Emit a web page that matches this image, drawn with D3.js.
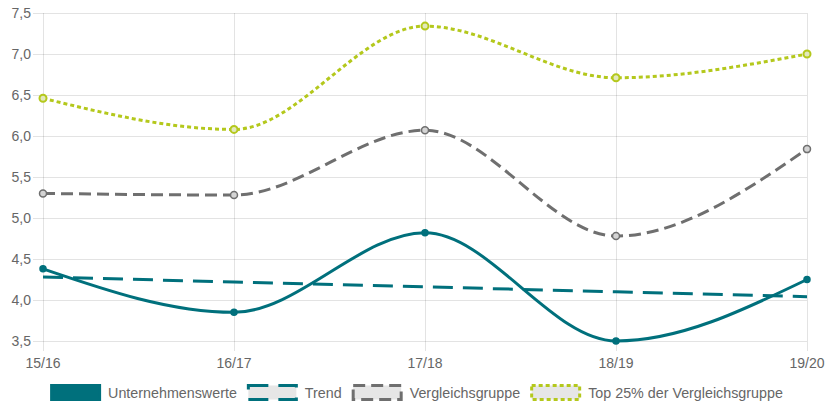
<!DOCTYPE html>
<html>
<head>
<meta charset="utf-8">
<script src="https://cdn.jsdelivr.net/npm/d3@7/dist/d3.min.js"></script>
<style>
  html, body { margin: 0; padding: 0; background: #fff; }
  svg { display: block; font-family: "Liberation Sans", Arial, Helvetica, sans-serif; }
</style>
</head>
<body>
<svg id="chart" width="825" height="403"></svg>
<script>
// Geschäftsjahre
const categories = ["15/16", "16/17", "17/18", "18/19", "19/20"];

// Kennzahlen je Geschäftsjahr
const unternehmenswerte = [4.38, 3.85, 4.82, 3.50, 4.25];
const trend = [4.28, 4.22, 4.16, 4.10, 4.04];
const vergleichsgruppe = [5.30, 5.28, 6.07, 4.78, 5.84];
const top25 = [6.46, 6.08, 7.34, 6.71, 7.00];

const seriesNames = ["Unternehmenswerte", "Trend", "Vergleichsgruppe", "Top 25% der Vergleichsgruppe"];
const yTicks = [3.5, 4.0, 4.5, 5.0, 5.5, 6.0, 6.5, 7.0, 7.5];

const W = 825, H = 403;
const area = { left: 43, right: 807, top: 13, bottom: 341 };
const TEAL = "#00707c", GREY = "#6f6f6f", LIME = "#b4c81c";
const GRID = "rgba(0,0,0,0.11)";
const TEXT = "#666";

const svg = d3.select("#chart");

const x = d3.scalePoint().domain(categories).range([area.left, area.right]);
const y = d3.scaleLinear().domain([3.5, 7.5]).range([area.bottom, area.top]);

// Gitterlinien
const grid = svg.append("g");
grid.selectAll("line.h").data(yTicks).join("line")
  .attr("x1", area.left - 10).attr("x2", area.right)
  .attr("y1", d => Math.round(y(d)) + 0.5).attr("y2", d => Math.round(y(d)) + 0.5)
  .attr("stroke", GRID).attr("stroke-width", 1);
grid.selectAll("line.v").data(categories).join("line")
  .attr("x1", d => Math.round(x(d)) + 0.5).attr("x2", d => Math.round(x(d)) + 0.5)
  .attr("y1", area.top).attr("y2", area.bottom + 10)
  .attr("stroke", GRID).attr("stroke-width", 1);

// Achsenbeschriftungen
const fmt = d => d3.format(".1f")(d).replace(".", ",");
svg.append("g").selectAll("text").data(yTicks).join("text")
  .attr("x", 31).attr("y", d => y(d)).attr("dy", "0.36em")
  .attr("text-anchor", "end").attr("fill", TEXT).attr("font-size", 14)
  .text(fmt);
svg.append("g").selectAll("text").data(categories).join("text")
  .attr("x", d => x(d)).attr("y", 368)
  .attr("text-anchor", "middle").attr("fill", TEXT).attr("font-size", 14)
  .text(d => d);

const datasets = [
  { name: seriesNames[0], values: unternehmenswerte, color: TEAL, dash: null, curve: d3.curveMonotoneX, box: TEAL, points: true, pointFill: TEAL, r: 3, sw: 1.5 },
  { name: seriesNames[1], values: trend, color: TEAL, dash: "20,10", curve: d3.curveLinear, box: "#e6e6e6", points: false },
  { name: seriesNames[2], values: vergleichsgruppe, color: GREY, dash: "12,6", curve: d3.curveMonotoneX, box: "#e6e6e6", points: true, pointFill: "#d4d4d4", r: 3.5, sw: 1.5 },
  { name: seriesNames[3], values: top25, color: LIME, dash: "4,3", curve: d3.curveMonotoneX, box: "#e6e6e6", points: true, pointFill: "#e2e8bd", r: 3.5, sw: 2 }
];

// Erster Datensatz liegt oben: in umgekehrter Reihenfolge zeichnen
const plot = svg.append("g");
datasets.slice().reverse().forEach(ds => {
  const g = plot.append("g");
  const line = d3.line().x((d, i) => x(categories[i])).y(d => y(d)).curve(ds.curve);
  g.append("path").datum(ds.values)
    .attr("d", line).attr("fill", "none")
    .attr("stroke", ds.color).attr("stroke-width", 3)
    .attr("stroke-dasharray", ds.dash);
  if (ds.points) {
    g.selectAll("circle").data(ds.values).join("circle")
      .attr("cx", (d, i) => x(categories[i])).attr("cy", d => y(d))
      .attr("r", ds.r).attr("fill", ds.pointFill)
      .attr("stroke", ds.color).attr("stroke-width", ds.sw);
  }
});

// Legende
const legend = svg.append("g").attr("font-size", 14.3).attr("fill", TEXT);
const BOXW = 48, BOXH = 14, GAP = 7, PAD = 10;
const items = datasets.map(ds => {
  const t = legend.append("text").text(ds.name);
  return { ds, t, w: t.node().getComputedTextLength() };
});
const total = d3.sum(items, it => BOXW + 3 + GAP + it.w) + PAD * (items.length - 1);
let cx = (W - total) / 2 + 4;
items.forEach(it => {
  legend.append("rect")
    .attr("x", cx + 1.5).attr("y", 385.5).attr("width", BOXW).attr("height", BOXH)
    .attr("fill", it.ds.box).attr("stroke", it.ds.color).attr("stroke-width", 3)
    .attr("stroke-dasharray", it.ds.dash);
  it.t.attr("x", cx + BOXW + 3 + GAP).attr("y", 397.5);
  cx += BOXW + 3 + GAP + it.w + PAD;
});
</script>
</body>
</html>
